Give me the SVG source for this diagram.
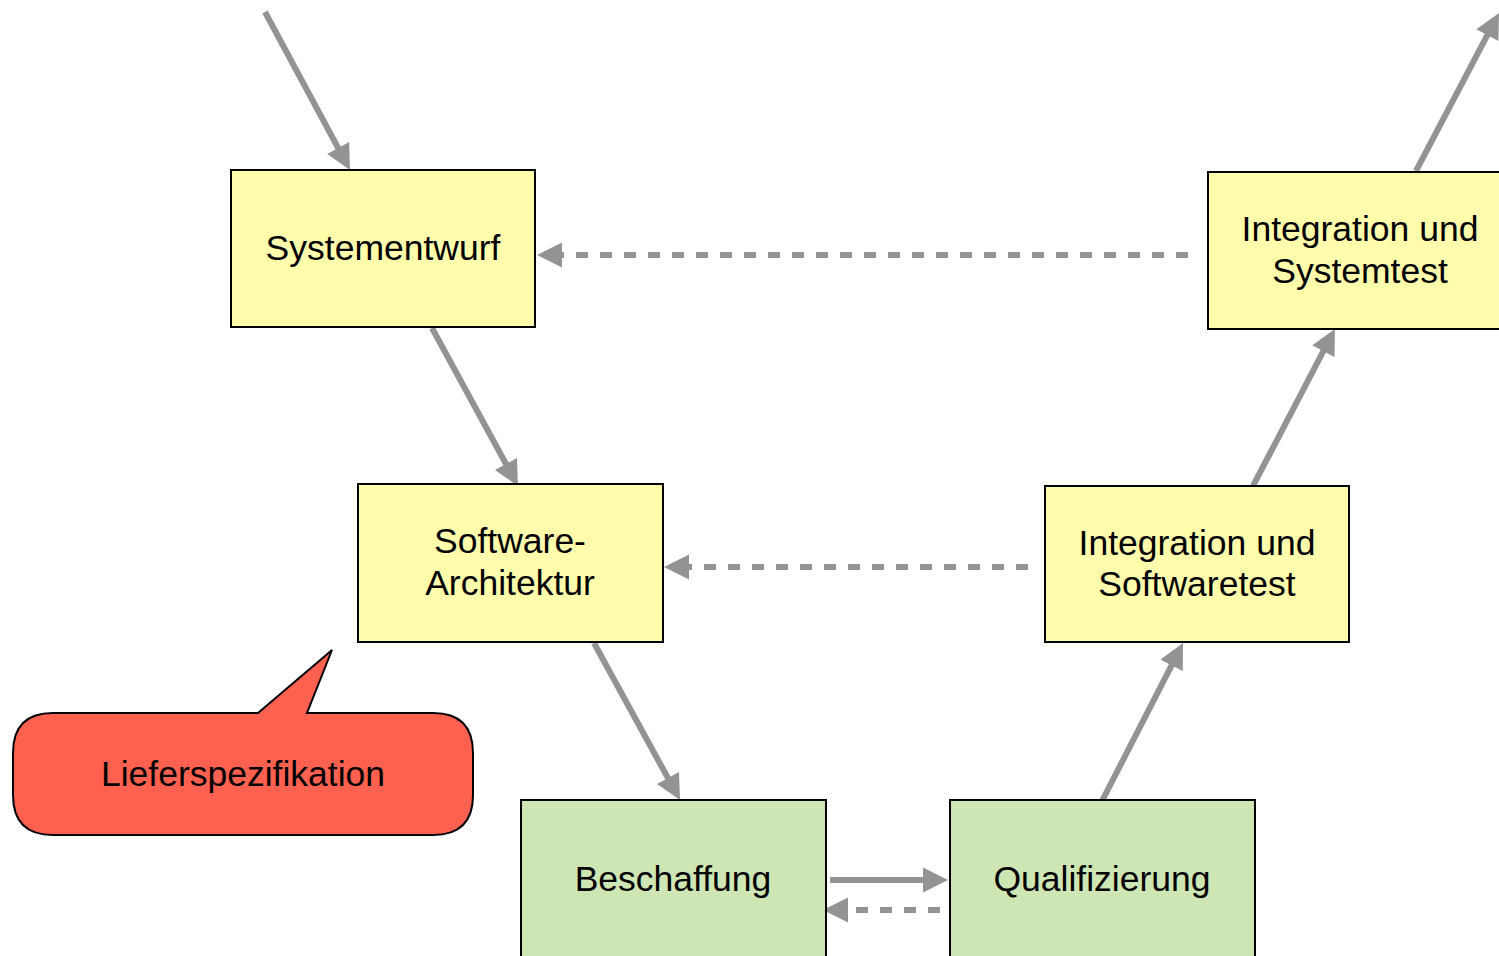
<svg xmlns="http://www.w3.org/2000/svg" width="1499" height="956" viewBox="0 0 1499 956">
  <style>
    .box { stroke: #000000; stroke-width: 2; }
    .spec { fill: #FFFCAC; }
    .real { fill: #CDE6B4; }
    .lbl { font-family: "Liberation Sans", Arial, sans-serif; font-size: 35.5px; fill: #000000; text-anchor: middle; }
    .flow { stroke: #939393; stroke-width: 6; fill: none; marker-end: url(#head); }
    .back { stroke-dasharray: 12 12; }
  </style>
  <defs>
    <marker id="head" markerUnits="userSpaceOnUse" markerWidth="26" markerHeight="26" refX="5" refY="12.5" orient="auto" overflow="visible">
      <path d="M0,0 L25,12.5 L0,25 z" fill="#939393"/>
    </marker>
  </defs>
  <rect width="1499" height="956" fill="#ffffff"/>

  <!-- connectors -->
  <g id="connectors">
    <line class="flow" x1="265" y1="12" x2="340.5" y2="152.4"/>
    <line class="flow" x1="432" y1="328" x2="508.4" y2="468.4"/>
    <line class="flow" x1="594" y1="643" x2="670.4" y2="782.5"/>
    <line class="flow" x1="1101" y1="803" x2="1173.9" y2="660.8"/>
    <line class="flow" x1="1253" y1="486" x2="1325.7" y2="346.7"/>
    <line class="flow" x1="1416" y1="171" x2="1489.7" y2="30.7"/>
    <line class="flow back" x1="1188" y1="255" x2="557" y2="255"/>
    <line class="flow back" x1="1028" y1="567" x2="684" y2="567"/>
    <line class="flow" x1="830" y1="880" x2="928" y2="880"/>
    <line class="flow back" x1="940" y1="910" x2="843" y2="910"/>
  </g>

  <g id="systementwurf">
    <rect class="box spec" x="231" y="170" width="304" height="157"/>
    <text class="lbl" x="383" y="260">Systementwurf</text>
  </g>
  <g id="integration-systemtest">
    <rect class="box spec" x="1208" y="172" width="304" height="157"/>
    <text class="lbl" x="1360" y="241">Integration und</text>
    <text class="lbl" x="1360" y="283">Systemtest</text>
  </g>
  <g id="software-architektur">
    <rect class="box spec" x="358" y="484" width="305" height="158"/>
    <text class="lbl" x="510" y="553">Software-</text>
    <text class="lbl" x="510" y="595">Architektur</text>
  </g>
  <g id="integration-softwaretest">
    <rect class="box spec" x="1045" y="486" width="304" height="156"/>
    <text class="lbl" x="1197" y="555">Integration und</text>
    <text class="lbl" x="1197" y="596">Softwaretest</text>
  </g>
  <g id="beschaffung">
    <rect class="box real" x="521" y="800" width="305" height="170"/>
    <text class="lbl" x="673" y="891">Beschaffung</text>
  </g>
  <g id="qualifizierung">
    <rect class="box real" x="950" y="800" width="305" height="170"/>
    <text class="lbl" x="1102" y="891">Qualifizierung</text>
  </g>

  <g id="lieferspezifikation">
    <path d="M53,713 L258,713 L332,650 L307,713 L433,713 Q473,713 473,753 L473,795 Q473,835 433,835 L53,835 Q13,835 13,795 L13,753 Q13,713 53,713 z" fill="#FF6150" stroke="#000000" stroke-width="2" stroke-linejoin="miter"/>
    <text class="lbl" x="243" y="786">Lieferspezifikation</text>
  </g>
</svg>
